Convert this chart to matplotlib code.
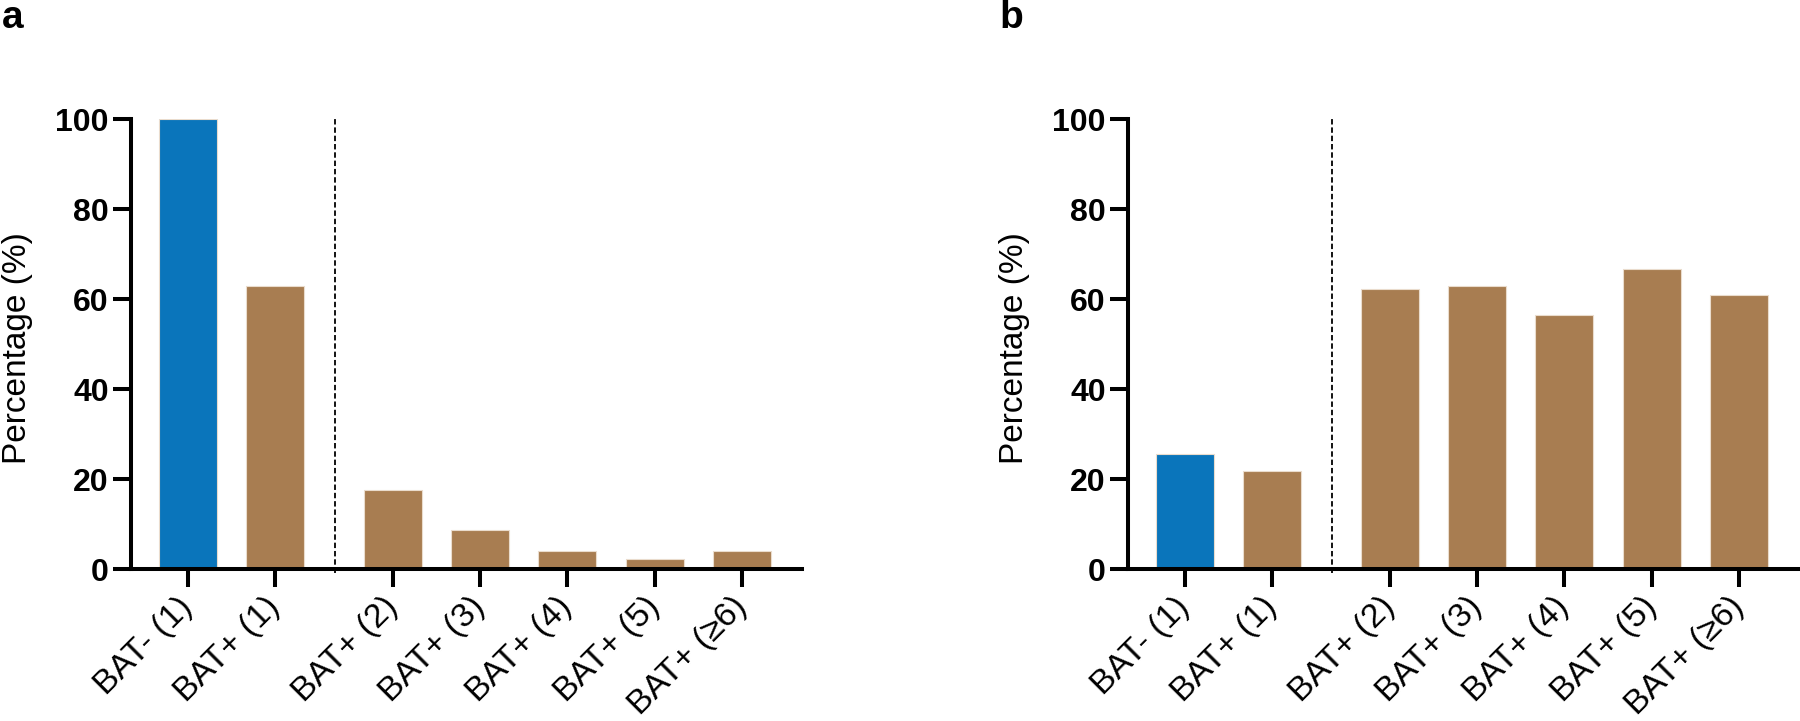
import matplotlib.pyplot as plt
import numpy as np

plt.rcParams['font.family'] = ['Liberation Sans', 'DejaVu Sans']

labels = ["BAT- (1)", "BAT+ (1)", "BAT+ (2)", "BAT+ (3)", "BAT+ (4)", "BAT+ (5)", "BAT+ (≥6)"]
pct_a = [100, 62.8, 17.6, 8.6, 3.9, 2.2, 4.0]
pct_b = [25.6, 21.8, 62.2, 62.8, 56.4, 66.7, 61.0]
colors = ["#0A75BB"] + ["#A87D51"] * 6
xpos = np.array([0, 1, 2.34, 3.34, 4.34, 5.34, 6.34])

fig = plt.figure(figsize=(18, 7.21), dpi=100)

def panel(left, vals, letter):
    ax = fig.add_axes([left, 0.2108, 0.3728, 0.6241])
    ax.bar(xpos, vals, width=0.664, color=colors, edgecolor="#eadccd", linewidth=0.8)
    # dashed separator between single and repeated groups
    ax.plot([1.68, 1.68], [-0.8, 100], color="black", lw=1.3, ls=(0, (3, 1.6)), clip_on=False)
    ax.set_xlim(-0.652, 7.025)
    ax.set_ylim(0, 100)
    ax.set_yticks([0, 20, 40, 60, 80, 100])
    ax.set_xticks(xpos)
    ax.set_xticklabels(labels, rotation=45, ha="right", va="center", rotation_mode="anchor", fontsize=24.5)
    for t in ax.get_yticklabels():
        t.set_fontweight("bold")
        t.set_fontsize(23)
    ax.tick_params(axis="both", direction="out", length=13, width=2.9, color="black")
    ax.tick_params(axis="y", pad=3)
    ax.tick_params(axis="x", pad=11)
    for s in ["top", "right"]:
        ax.spines[s].set_visible(False)
    for s in ["left", "bottom"]:
        ax.spines[s].set_linewidth(2.9)
    ax.set_ylabel("Percentage (%)", fontsize=24)
    ax.yaxis.set_label_coords(-0.146, 0.49)
    fig.text(left - 0.0717, 1 - 28 / 721, letter, fontsize=28, fontweight="bold", va="baseline", ha="left")
    return ax

panel(0.0728, pct_a, "a")
panel(0.6267, pct_b, "b")

plt.savefig("out.png", dpi=100)
